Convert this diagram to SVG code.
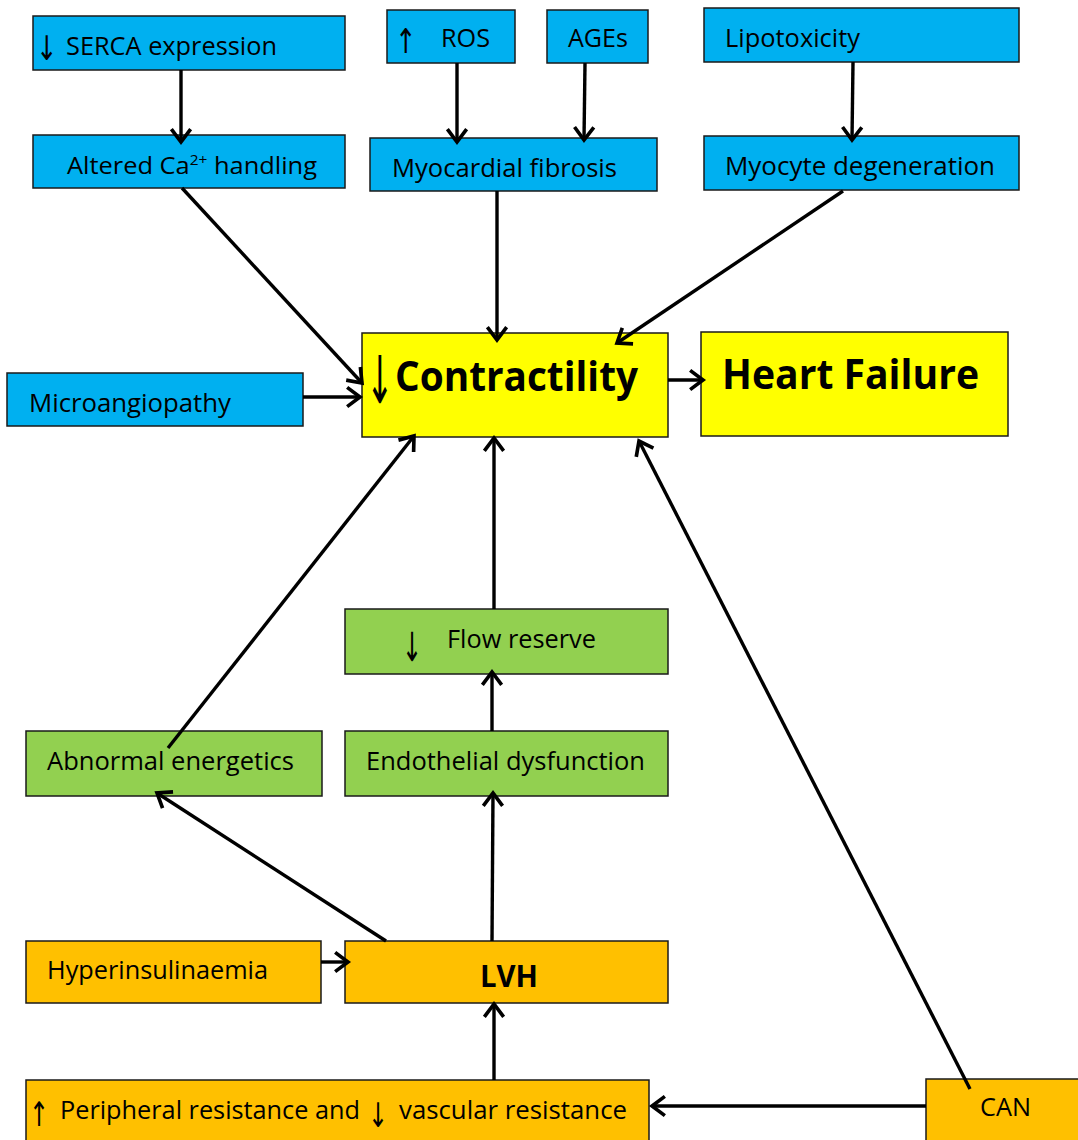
<svg xmlns="http://www.w3.org/2000/svg" width="1078" height="1140" viewBox="0 0 1078 1140">
<defs>
<marker id="ah" markerUnits="userSpaceOnUse" markerWidth="30" markerHeight="30" viewBox="-14 -12 28 24" refX="0" refY="0" orient="auto">
<path d="M-12,-9 L0,0 L-12,9" fill="none" stroke="#000" stroke-width="3.4"/>
</marker>
</defs>
<style>
.b{fill:#00B0F0;stroke:#1a1a1a;stroke-width:1.5}
.y{fill:#FFFF00;stroke:#1a1a1a;stroke-width:1.5}
.g{fill:#92D050;stroke:#1a1a1a;stroke-width:1.5}
.o{fill:#FFC000;stroke:#1a1a1a;stroke-width:1.5}
text{font-family:"Open Sans","Noto Sans","DejaVu Sans",sans-serif;font-size:25px;fill:#000}
.big{font-size:42px;font-weight:bold}
.bold{font-weight:bold;font-size:30px}
.ar{font-family:"DejaVu Sans",sans-serif}
.c line{stroke:#000;stroke-width:3.4;marker-end:url(#ah)}
</style>
<rect width="1078" height="1140" fill="#fff"/>
<g id="serca"><rect class="b" x="33" y="16" width="312" height="54"/><text class="ar" x="0" y="0" style="font-size:34px" transform="translate(36,60) scale(0.75,1)">↓</text><text x="66" y="55" textLength="211" lengthAdjust="spacingAndGlyphs">SERCA expression</text></g>
<g id="calcium"><rect class="b" x="33" y="135" width="312" height="53"/><text x="67" y="174" style="font-size:23px" textLength="250" lengthAdjust="spacingAndGlyphs">Altered Ca<tspan baseline-shift="super" style="font-size:14px">2+</tspan> handling</text></g>
<g id="ros"><rect class="b" x="387" y="10" width="128" height="53"/><text class="ar" x="0" y="0" style="font-size:34px" transform="translate(395,53) scale(0.75,1)">↑</text><text x="441" y="47" textLength="49" lengthAdjust="spacingAndGlyphs">ROS</text></g>
<g id="ages"><rect class="b" x="547" y="10" width="101" height="53"/><text x="568" y="47" textLength="60" lengthAdjust="spacingAndGlyphs">AGEs</text></g>
<g id="fibrosis"><rect class="b" x="370" y="138" width="287" height="53"/><text x="392" y="177" textLength="225" lengthAdjust="spacingAndGlyphs">Myocardial fibrosis</text></g>
<g id="lipotoxicity"><rect class="b" x="704" y="8" width="315" height="54"/><text x="725" y="47" textLength="135" lengthAdjust="spacingAndGlyphs">Lipotoxicity</text></g>
<g id="myocyte"><rect class="b" x="704" y="136" width="315" height="54"/><text x="725" y="175" textLength="270" lengthAdjust="spacingAndGlyphs">Myocyte degeneration</text></g>
<g id="microangiopathy"><rect class="b" x="7" y="373" width="296" height="53"/><text x="29" y="412" textLength="202" lengthAdjust="spacingAndGlyphs">Microangiopathy</text></g>
<g id="contractility"><rect class="y" x="362" y="333" width="306" height="104"/><text class="ar" x="0" y="0" style="font-size:66px" transform="translate(366,403) scale(0.5,1)">↓</text><text class="big" x="395" y="391" textLength="243" lengthAdjust="spacingAndGlyphs">Contractility</text></g>
<g id="heartfailure"><rect class="y" x="701" y="332" width="307" height="104"/><text class="big" x="722" y="389" textLength="257" lengthAdjust="spacingAndGlyphs">Heart Failure</text></g>
<g id="flowreserve"><rect class="g" x="345" y="609" width="323" height="65"/><text class="ar" x="0" y="0" style="font-size:40px" transform="translate(402,661) scale(0.6,1)">↓</text><text x="447" y="648" textLength="149" lengthAdjust="spacingAndGlyphs">Flow reserve</text></g>
<g id="energetics"><rect class="g" x="26" y="731" width="296" height="65"/><text x="47" y="770" textLength="247" lengthAdjust="spacingAndGlyphs">Abnormal energetics</text></g>
<g id="endothelial"><rect class="g" x="345" y="731" width="323" height="65"/><text x="366" y="770" textLength="279" lengthAdjust="spacingAndGlyphs">Endothelial dysfunction</text></g>
<g id="hyperinsulinaemia"><rect class="o" x="26" y="941" width="295" height="62"/><text x="47" y="979" textLength="221" lengthAdjust="spacingAndGlyphs">Hyperinsulinaemia</text></g>
<g id="lvh"><rect class="o" x="345" y="941" width="323" height="62"/><text class="bold" x="480" y="987" textLength="58" lengthAdjust="spacingAndGlyphs">LVH</text></g>
<g id="peripheral"><rect class="o" x="26" y="1080" width="623" height="62"/><text class="ar" x="0" y="0" style="font-size:34px" transform="translate(29,1126) scale(0.7,1)">↑</text><text x="60" y="1119" textLength="300" lengthAdjust="spacingAndGlyphs">Peripheral resistance and</text><text class="ar" x="0" y="0" style="font-size:34px" transform="translate(368,1127) scale(0.7,1)">↓</text><text x="399" y="1119" textLength="228" lengthAdjust="spacingAndGlyphs">vascular resistance</text></g>
<g id="can"><rect class="o" x="926" y="1079" width="154" height="63"/><text x="980" y="1116" textLength="51" lengthAdjust="spacingAndGlyphs">CAN</text></g>
<g class="c">
<line x1="181" y1="70" x2="181" y2="142"/>
<line x1="457" y1="63" x2="457" y2="142"/>
<line x1="585" y1="63" x2="584" y2="140"/>
<line x1="853" y1="62" x2="852" y2="140"/>
<line x1="182" y1="188" x2="362" y2="383"/>
<line x1="497" y1="191" x2="497" y2="340"/>
<line x1="843" y1="191" x2="617" y2="343"/>
<line x1="303" y1="397" x2="360" y2="397"/>
<line x1="668" y1="380" x2="703" y2="380"/>
<line x1="168" y1="748" x2="414" y2="436"/>
<line x1="494" y1="609" x2="494" y2="438"/>
<line x1="492" y1="731" x2="492" y2="672"/>
<line x1="386" y1="941" x2="157" y2="793"/>
<line x1="492" y1="941" x2="493" y2="793"/>
<line x1="321" y1="962" x2="348" y2="962"/>
<line x1="494" y1="1080" x2="494" y2="1004"/>
<line x1="926" y1="1106" x2="652" y2="1106"/>
<line x1="970" y1="1089" x2="639" y2="441"/>
</g>
</svg>
